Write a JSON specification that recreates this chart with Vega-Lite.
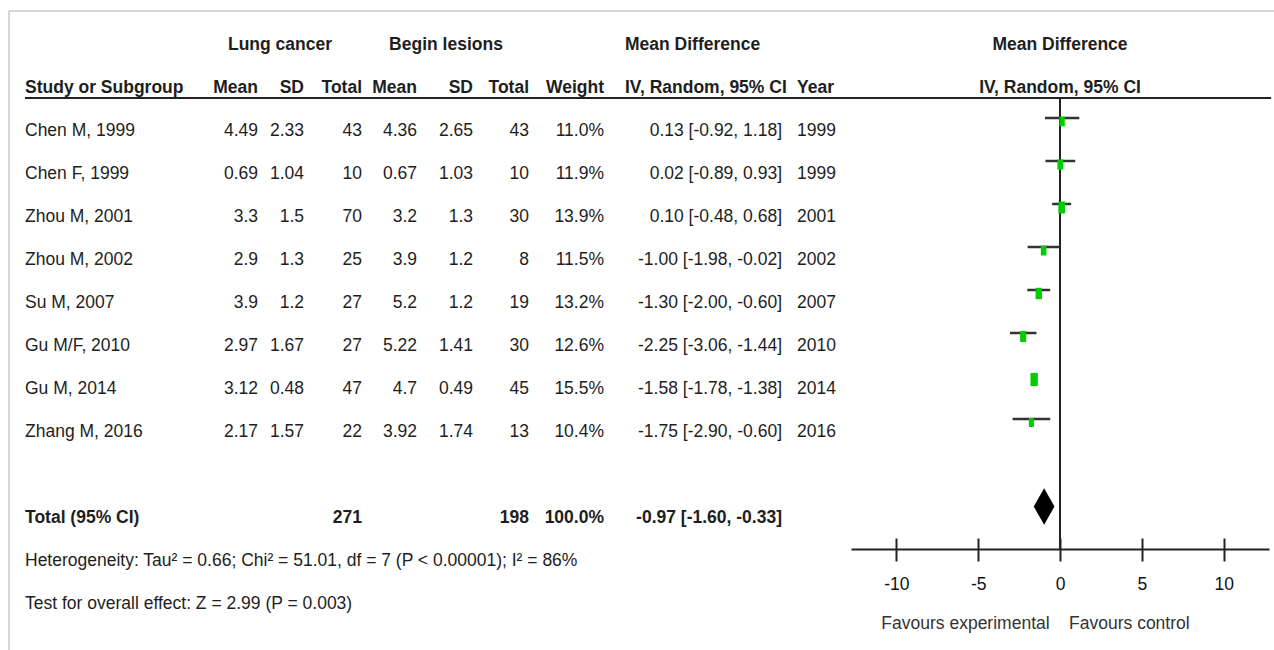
{
  "$schema": "https://vega.github.io/schema/vega-lite/v6.json",
  "padding": {"left": 8, "top": 10, "right": 6, "bottom": 0},
  "background": "white",
  "spacing": 0,
  "bounds": "flush",
  "config": {
    "view": {"stroke": null},
    "font": "'Liberation Sans', Arial, sans-serif",
    "text": {"fontSize": 17.5, "color": "#1e1e1e", "baseline": "middle"}
  },
  "datasets": {
    "one": [{}],
    "studies": [
      {"study": "Chen M, 1999", "m1": 4.49, "s1": 2.33, "n1": 43, "m2": 4.36, "s2": 2.65, "n2": 43, "w": 0.110, "md": 0.13, "lo": -0.92, "hi": 1.18, "ci": "0.13 [-0.92, 1.18]", "year": "1999", "row": 1},
      {"study": "Chen F, 1999", "m1": 0.69, "s1": 1.04, "n1": 10, "m2": 0.67, "s2": 1.03, "n2": 10, "w": 0.119, "md": 0.02, "lo": -0.89, "hi": 0.93, "ci": "0.02 [-0.89, 0.93]", "year": "1999", "row": 2},
      {"study": "Zhou M, 2001", "m1": 3.3, "s1": 1.5, "n1": 70, "m2": 3.2, "s2": 1.3, "n2": 30, "w": 0.139, "md": 0.10, "lo": -0.48, "hi": 0.68, "ci": "0.10 [-0.48, 0.68]", "year": "2001", "row": 3},
      {"study": "Zhou M, 2002", "m1": 2.9, "s1": 1.3, "n1": 25, "m2": 3.9, "s2": 1.2, "n2": 8, "w": 0.115, "md": -1.00, "lo": -1.98, "hi": -0.02, "ci": "-1.00 [-1.98, -0.02]", "year": "2002", "row": 4},
      {"study": "Su M, 2007", "m1": 3.9, "s1": 1.2, "n1": 27, "m2": 5.2, "s2": 1.2, "n2": 19, "w": 0.132, "md": -1.30, "lo": -2.00, "hi": -0.60, "ci": "-1.30 [-2.00, -0.60]", "year": "2007", "row": 5},
      {"study": "Gu M/F, 2010", "m1": 2.97, "s1": 1.67, "n1": 27, "m2": 5.22, "s2": 1.41, "n2": 30, "w": 0.126, "md": -2.25, "lo": -3.06, "hi": -1.44, "ci": "-2.25 [-3.06, -1.44]", "year": "2010", "row": 6},
      {"study": "Gu M, 2014", "m1": 3.12, "s1": 0.48, "n1": 47, "m2": 4.7, "s2": 0.49, "n2": 45, "w": 0.155, "md": -1.58, "lo": -1.78, "hi": -1.38, "ci": "-1.58 [-1.78, -1.38]", "year": "2014", "row": 7},
      {"study": "Zhang M, 2016", "m1": 2.17, "s1": 1.57, "n1": 22, "m2": 3.92, "s2": 1.74, "n2": 13, "w": 0.104, "md": -1.75, "lo": -2.90, "hi": -0.60, "ci": "-1.75 [-2.90, -0.60]", "year": "2016", "row": 8}
    ],
    "total": [
      {"label": "Total (95% CI)", "n1": 271, "n2": 198, "w": 1.0, "md": -0.97, "lo": -1.60, "hi": -0.33, "ci": "-0.97 [-1.60, -0.33]", "row": 10}
    ],
    "headers": [
      {"text": "Lung cancer", "col": 3, "row": -1},
      {"text": "Begin lesions", "col": 7, "row": -1},
      {"text": "Mean Difference", "col": 11, "row": -1},
      {"text": "Study or Subgroup", "col": 1, "row": 0},
      {"text": "Mean", "col": 2, "row": 0},
      {"text": "SD", "col": 4, "row": 0},
      {"text": "Total", "col": 5, "row": 0},
      {"text": "Mean", "col": 6, "row": 0},
      {"text": "SD", "col": 8, "row": 0},
      {"text": "Total", "col": 9, "row": 0},
      {"text": "Weight", "col": 10, "row": 0},
      {"text": "IV, Random, 95% CI", "col": 11, "row": 0},
      {"text": "Year", "col": 13, "row": 0}
    ],
    "rightHeaders": [
      {"text": "Mean Difference", "row": -1},
      {"text": "IV, Random, 95% CI", "row": 0}
    ],
    "notes": [
      {"text": "Heterogeneity: Tau² = 0.66; Chi² = 51.01, df = 7 (P < 0.00001); I² = 86%", "row": 11},
      {"text": "Test for overall effect: Z = 2.99 (P = 0.003)", "row": 12}
    ]
  },
  "hconcat": [
    {
      "width": 842,
      "height": 640,
      "layer": [
        {
          "data": {"name": "one"},
          "mark": {"type": "rule", "color": "#c8c8c8", "strokeWidth": 1.5},
          "encoding": {
            "x": {"datum": 0, "type": "quantitative", "scale": {"domain": [0,1,2,3,4,5,6,7,8,9,10,11,12,13,14], "range": [0,16,249,271,295,353,408,437,464,520,595,616,773,788,842], "nice": false, "zero": false}, "axis": null}
          }
        },
        {
          "data": {"name": "one"},
          "mark": {"type": "rule", "color": "#c8c8c8", "strokeWidth": 1.5},
          "encoding": {
            "x": {"datum": 0, "type": "quantitative", "scale": {"domain": [0,1,2,3,4,5,6,7,8,9,10,11,12,13,14], "range": [0,16,249,271,295,353,408,437,464,520,595,616,773,788,842], "nice": false, "zero": false}, "axis": null},
            "x2": {"datum": 14},
            "y": {"datum": -1.7907, "type": "quantitative", "scale": {"domain": [-1.7907, 13.093], "reverse": true, "nice": false, "zero": false}, "axis": null}
          }
        },
        {
          "data": {"name": "one"},
          "mark": {"type": "rule", "color": "#222222", "strokeWidth": 2},
          "encoding": {
            "x": {"datum": 1, "type": "quantitative", "scale": {"domain": [0,1,2,3,4,5,6,7,8,9,10,11,12,13,14], "range": [0,16,249,271,295,353,408,437,464,520,595,616,773,788,842], "nice": false, "zero": false}, "axis": null},
            "x2": {"datum": 14},
            "y": {"datum": 0.2326, "type": "quantitative", "scale": {"domain": [-1.7907, 13.093], "reverse": true, "nice": false, "zero": false}, "axis": null}
          }
        },
        {
          "data": {"name": "headers"},
          "transform": [{"filter": "datum.col == 1 || datum.col == 11 || datum.col == 13"}],
          "mark": {"type": "text", "align": "left", "fontWeight": "bold"},
          "encoding": {
            "x": {"field": "col", "type": "quantitative", "scale": {"domain": [0,1,2,3,4,5,6,7,8,9,10,11,12,13,14], "range": [0,16,249,271,295,353,408,437,464,520,595,616,773,788,842], "nice": false, "zero": false}, "axis": null},
            "y": {"field": "row", "type": "quantitative", "scale": {"domain": [-1.7907, 13.093], "reverse": true, "nice": false, "zero": false}, "axis": null},
            "text": {"field": "text", "type": "nominal"}
          }
        },
        {
          "data": {"name": "headers"},
          "transform": [{"filter": "datum.col == 3 || datum.col == 7"}],
          "mark": {"type": "text", "align": "center", "fontWeight": "bold"},
          "encoding": {
            "x": {"field": "col", "type": "quantitative", "scale": {"domain": [0,1,2,3,4,5,6,7,8,9,10,11,12,13,14], "range": [0,16,249,271,295,353,408,437,464,520,595,616,773,788,842], "nice": false, "zero": false}, "axis": null},
            "y": {"field": "row", "type": "quantitative", "scale": {"domain": [-1.7907, 13.093], "reverse": true, "nice": false, "zero": false}, "axis": null},
            "text": {"field": "text", "type": "nominal"}
          }
        },
        {
          "data": {"name": "headers"},
          "transform": [{"filter": "datum.col != 1 && datum.col != 11 && datum.col != 13 && datum.col != 3 && datum.col != 7"}],
          "mark": {"type": "text", "align": "right", "fontWeight": "bold"},
          "encoding": {
            "x": {"field": "col", "type": "quantitative", "scale": {"domain": [0,1,2,3,4,5,6,7,8,9,10,11,12,13,14], "range": [0,16,249,271,295,353,408,437,464,520,595,616,773,788,842], "nice": false, "zero": false}, "axis": null},
            "y": {"field": "row", "type": "quantitative", "scale": {"domain": [-1.7907, 13.093], "reverse": true, "nice": false, "zero": false}, "axis": null},
            "text": {"field": "text", "type": "nominal"}
          }
        },
        {
          "data": {"name": "studies"},
          "mark": {"type": "text", "align": "left"},
          "encoding": {
            "x": {"datum": 1, "type": "quantitative", "scale": {"domain": [0,1,2,3,4,5,6,7,8,9,10,11,12,13,14], "range": [0,16,249,271,295,353,408,437,464,520,595,616,773,788,842], "nice": false, "zero": false}, "axis": null},
            "y": {"field": "row", "type": "quantitative", "scale": {"domain": [-1.7907, 13.093], "reverse": true, "nice": false, "zero": false}, "axis": null},
            "text": {"field": "study", "type": "nominal"}
          }
        },
        {
          "data": {"name": "studies"},
          "mark": {"type": "text", "align": "right"},
          "encoding": {
            "x": {"datum": 2, "type": "quantitative", "scale": {"domain": [0,1,2,3,4,5,6,7,8,9,10,11,12,13,14], "range": [0,16,249,271,295,353,408,437,464,520,595,616,773,788,842], "nice": false, "zero": false}, "axis": null},
            "y": {"field": "row", "type": "quantitative", "scale": {"domain": [-1.7907, 13.093], "reverse": true, "nice": false, "zero": false}, "axis": null},
            "text": {"field": "m1", "type": "nominal"}
          }
        },
        {
          "data": {"name": "studies"},
          "mark": {"type": "text", "align": "right"},
          "encoding": {
            "x": {"datum": 4, "type": "quantitative", "scale": {"domain": [0,1,2,3,4,5,6,7,8,9,10,11,12,13,14], "range": [0,16,249,271,295,353,408,437,464,520,595,616,773,788,842], "nice": false, "zero": false}, "axis": null},
            "y": {"field": "row", "type": "quantitative", "scale": {"domain": [-1.7907, 13.093], "reverse": true, "nice": false, "zero": false}, "axis": null},
            "text": {"field": "s1", "type": "nominal"}
          }
        },
        {
          "data": {"name": "studies"},
          "mark": {"type": "text", "align": "right"},
          "encoding": {
            "x": {"datum": 5, "type": "quantitative", "scale": {"domain": [0,1,2,3,4,5,6,7,8,9,10,11,12,13,14], "range": [0,16,249,271,295,353,408,437,464,520,595,616,773,788,842], "nice": false, "zero": false}, "axis": null},
            "y": {"field": "row", "type": "quantitative", "scale": {"domain": [-1.7907, 13.093], "reverse": true, "nice": false, "zero": false}, "axis": null},
            "text": {"field": "n1", "type": "nominal"}
          }
        },
        {
          "data": {"name": "studies"},
          "mark": {"type": "text", "align": "right"},
          "encoding": {
            "x": {"datum": 6, "type": "quantitative", "scale": {"domain": [0,1,2,3,4,5,6,7,8,9,10,11,12,13,14], "range": [0,16,249,271,295,353,408,437,464,520,595,616,773,788,842], "nice": false, "zero": false}, "axis": null},
            "y": {"field": "row", "type": "quantitative", "scale": {"domain": [-1.7907, 13.093], "reverse": true, "nice": false, "zero": false}, "axis": null},
            "text": {"field": "m2", "type": "nominal"}
          }
        },
        {
          "data": {"name": "studies"},
          "mark": {"type": "text", "align": "right"},
          "encoding": {
            "x": {"datum": 8, "type": "quantitative", "scale": {"domain": [0,1,2,3,4,5,6,7,8,9,10,11,12,13,14], "range": [0,16,249,271,295,353,408,437,464,520,595,616,773,788,842], "nice": false, "zero": false}, "axis": null},
            "y": {"field": "row", "type": "quantitative", "scale": {"domain": [-1.7907, 13.093], "reverse": true, "nice": false, "zero": false}, "axis": null},
            "text": {"field": "s2", "type": "nominal"}
          }
        },
        {
          "data": {"name": "studies"},
          "mark": {"type": "text", "align": "right"},
          "encoding": {
            "x": {"datum": 9, "type": "quantitative", "scale": {"domain": [0,1,2,3,4,5,6,7,8,9,10,11,12,13,14], "range": [0,16,249,271,295,353,408,437,464,520,595,616,773,788,842], "nice": false, "zero": false}, "axis": null},
            "y": {"field": "row", "type": "quantitative", "scale": {"domain": [-1.7907, 13.093], "reverse": true, "nice": false, "zero": false}, "axis": null},
            "text": {"field": "n2", "type": "nominal"}
          }
        },
        {
          "data": {"name": "studies"},
          "mark": {"type": "text", "align": "right"},
          "encoding": {
            "x": {"datum": 10, "type": "quantitative", "scale": {"domain": [0,1,2,3,4,5,6,7,8,9,10,11,12,13,14], "range": [0,16,249,271,295,353,408,437,464,520,595,616,773,788,842], "nice": false, "zero": false}, "axis": null},
            "y": {"field": "row", "type": "quantitative", "scale": {"domain": [-1.7907, 13.093], "reverse": true, "nice": false, "zero": false}, "axis": null},
            "text": {"field": "w", "type": "quantitative", "format": ".1%"}
          }
        },
        {
          "data": {"name": "studies"},
          "mark": {"type": "text", "align": "right"},
          "encoding": {
            "x": {"datum": 12, "type": "quantitative", "scale": {"domain": [0,1,2,3,4,5,6,7,8,9,10,11,12,13,14], "range": [0,16,249,271,295,353,408,437,464,520,595,616,773,788,842], "nice": false, "zero": false}, "axis": null},
            "y": {"field": "row", "type": "quantitative", "scale": {"domain": [-1.7907, 13.093], "reverse": true, "nice": false, "zero": false}, "axis": null},
            "text": {"field": "ci", "type": "nominal"}
          }
        },
        {
          "data": {"name": "studies"},
          "mark": {"type": "text", "align": "left"},
          "encoding": {
            "x": {"datum": 13, "type": "quantitative", "scale": {"domain": [0,1,2,3,4,5,6,7,8,9,10,11,12,13,14], "range": [0,16,249,271,295,353,408,437,464,520,595,616,773,788,842], "nice": false, "zero": false}, "axis": null},
            "y": {"field": "row", "type": "quantitative", "scale": {"domain": [-1.7907, 13.093], "reverse": true, "nice": false, "zero": false}, "axis": null},
            "text": {"field": "year", "type": "nominal"}
          }
        },
        {
          "data": {"name": "total"},
          "mark": {"type": "text", "align": "left", "fontWeight": "bold"},
          "encoding": {
            "x": {"datum": 1, "type": "quantitative", "scale": {"domain": [0,1,2,3,4,5,6,7,8,9,10,11,12,13,14], "range": [0,16,249,271,295,353,408,437,464,520,595,616,773,788,842], "nice": false, "zero": false}, "axis": null},
            "y": {"field": "row", "type": "quantitative", "scale": {"domain": [-1.7907, 13.093], "reverse": true, "nice": false, "zero": false}, "axis": null},
            "text": {"field": "label", "type": "nominal"}
          }
        },
        {
          "data": {"name": "total"},
          "mark": {"type": "text", "align": "right", "fontWeight": "bold"},
          "encoding": {
            "x": {"datum": 5, "type": "quantitative", "scale": {"domain": [0,1,2,3,4,5,6,7,8,9,10,11,12,13,14], "range": [0,16,249,271,295,353,408,437,464,520,595,616,773,788,842], "nice": false, "zero": false}, "axis": null},
            "y": {"field": "row", "type": "quantitative", "scale": {"domain": [-1.7907, 13.093], "reverse": true, "nice": false, "zero": false}, "axis": null},
            "text": {"field": "n1", "type": "nominal"}
          }
        },
        {
          "data": {"name": "total"},
          "mark": {"type": "text", "align": "right", "fontWeight": "bold"},
          "encoding": {
            "x": {"datum": 9, "type": "quantitative", "scale": {"domain": [0,1,2,3,4,5,6,7,8,9,10,11,12,13,14], "range": [0,16,249,271,295,353,408,437,464,520,595,616,773,788,842], "nice": false, "zero": false}, "axis": null},
            "y": {"field": "row", "type": "quantitative", "scale": {"domain": [-1.7907, 13.093], "reverse": true, "nice": false, "zero": false}, "axis": null},
            "text": {"field": "n2", "type": "nominal"}
          }
        },
        {
          "data": {"name": "total"},
          "mark": {"type": "text", "align": "right", "fontWeight": "bold"},
          "encoding": {
            "x": {"datum": 10, "type": "quantitative", "scale": {"domain": [0,1,2,3,4,5,6,7,8,9,10,11,12,13,14], "range": [0,16,249,271,295,353,408,437,464,520,595,616,773,788,842], "nice": false, "zero": false}, "axis": null},
            "y": {"field": "row", "type": "quantitative", "scale": {"domain": [-1.7907, 13.093], "reverse": true, "nice": false, "zero": false}, "axis": null},
            "text": {"field": "w", "type": "quantitative", "format": ".1%"}
          }
        },
        {
          "data": {"name": "total"},
          "mark": {"type": "text", "align": "right", "fontWeight": "bold"},
          "encoding": {
            "x": {"datum": 12, "type": "quantitative", "scale": {"domain": [0,1,2,3,4,5,6,7,8,9,10,11,12,13,14], "range": [0,16,249,271,295,353,408,437,464,520,595,616,773,788,842], "nice": false, "zero": false}, "axis": null},
            "y": {"field": "row", "type": "quantitative", "scale": {"domain": [-1.7907, 13.093], "reverse": true, "nice": false, "zero": false}, "axis": null},
            "text": {"field": "ci", "type": "nominal"}
          }
        },
        {
          "data": {"name": "notes"},
          "mark": {"type": "text", "align": "left"},
          "encoding": {
            "x": {"datum": 1, "type": "quantitative", "scale": {"domain": [0,1,2,3,4,5,6,7,8,9,10,11,12,13,14], "range": [0,16,249,271,295,353,408,437,464,520,595,616,773,788,842], "nice": false, "zero": false}, "axis": null},
            "y": {"field": "row", "type": "quantitative", "scale": {"domain": [-1.7907, 13.093], "reverse": true, "nice": false, "zero": false}, "axis": null},
            "text": {"field": "text", "type": "nominal"}
          }
        }
      ]
    },
    {
      "width": 418,
      "height": 538,
      "resolve": {"axis": {"x": "independent"}},
      "layer": [
        {
          "data": {"name": "one"},
          "mark": {"type": "rule", "color": "#c8c8c8", "strokeWidth": 1.5},
          "encoding": {
            "x": {"datum": -12.77, "type": "quantitative", "scale": {"domain": [-12.77, 12.77], "nice": false, "zero": false}, "axis": null},
            "x2": {"datum": 13.15},
            "y": {"datum": -1.7907, "type": "quantitative", "scale": {"domain": [-1.7907, 10.721], "reverse": true, "nice": false, "zero": false}, "axis": null}
          }
        },
        {
          "data": {"name": "one"},
          "mark": {"type": "rule", "color": "#222222", "strokeWidth": 2},
          "encoding": {
            "x": {"datum": -12.77, "type": "quantitative", "scale": {"domain": [-12.77, 12.77], "nice": false, "zero": false}, "axis": null},
            "x2": {"datum": 12.9},
            "y": {"datum": 0.2326, "type": "quantitative", "scale": {"domain": [-1.7907, 10.721], "reverse": true, "nice": false, "zero": false}, "axis": null}
          }
        },
        {
          "data": {"name": "one"},
          "mark": {"type": "rule", "color": "#222222", "strokeWidth": 2},
          "encoding": {
            "x": {"datum": 0, "type": "quantitative", "scale": {"domain": [-12.77, 12.77], "nice": false, "zero": false}, "axis": null},
            "y": {"datum": 0.2326, "type": "quantitative", "scale": {"domain": [-1.7907, 10.721], "reverse": true, "nice": false, "zero": false}, "axis": null},
            "y2": {"datum": 10.721}
          }
        },
        {
          "data": {"name": "studies"},
          "mark": {"type": "rule", "color": "#333333", "strokeWidth": 2.5, "yOffset": -13},
          "encoding": {
            "x": {"field": "lo", "type": "quantitative", "scale": {"domain": [-12.77, 12.77], "nice": false, "zero": false},
              "axis": {"orient": "bottom", "values": [-10, -5, 0, 5, 10], "domain": true, "domainColor": "#222222", "domainWidth": 2, "ticks": true, "tickSize": 12, "tickWidth": 2, "tickColor": "#222222", "grid": false, "labels": true, "labelFontSize": 17.5, "labelColor": "#111111", "labelExpr": "'' + datum.value", "labelBaseline": "middle", "labelPadding": 23, "labelFlush": false, "labelOverlap": false, "title": "Favours experimental\u00a0\u00a0\u00a0\u00a0Favours control", "titleFontSize": 17.5, "titleFontWeight": "normal", "titleColor": "#333333", "titleX": 184, "titleY": 74, "titleBaseline": "middle", "titleAlign": "center"}},
            "x2": {"field": "hi"},
            "y": {"field": "row", "type": "quantitative", "scale": {"domain": [-1.7907, 10.721], "reverse": true, "nice": false, "zero": false}, "axis": null}
          }
        },
        {
          "data": {"name": "studies"},
          "mark": {"type": "point", "shape": "M-1,-1.8L1,-1.8L1,1.8L-1,1.8Z", "filled": true, "color": "#00cc00", "opacity": 1, "yOffset": -9.5},
          "encoding": {
            "x": {"field": "md", "type": "quantitative", "scale": {"domain": [-12.77, 12.77], "nice": false, "zero": false},
              "axis": {"orient": "bottom", "values": [-10, -5, 0, 5, 10], "domain": false, "ticks": true, "tickSize": -11, "tickWidth": 2, "tickColor": "#222222", "grid": false, "labels": false, "title": null}},
            "y": {"field": "row", "type": "quantitative", "scale": {"domain": [-1.7907, 10.721], "reverse": true, "nice": false, "zero": false}, "axis": null},
            "size": {"field": "w", "type": "quantitative", "scale": {"domain": [0.104, 0.155], "range": [25, 53], "zero": false}, "legend": null}
          }
        },
        {
          "data": {"name": "total"},
          "mark": {"type": "point", "shape": "M0,-1.75L1,0L0,1.75L-1,0Z", "filled": true, "color": "#000000", "opacity": 1, "size": 430, "yOffset": -11.5},
          "encoding": {
            "x": {"field": "md", "type": "quantitative", "scale": {"domain": [-12.77, 12.77], "nice": false, "zero": false}, "axis": null},
            "y": {"field": "row", "type": "quantitative", "scale": {"domain": [-1.7907, 10.721], "reverse": true, "nice": false, "zero": false}, "axis": null}
          }
        },
        {
          "data": {"name": "rightHeaders"},
          "mark": {"type": "text", "align": "center", "fontWeight": "bold"},
          "encoding": {
            "x": {"datum": 0, "type": "quantitative", "scale": {"domain": [-12.77, 12.77], "nice": false, "zero": false}, "axis": null},
            "y": {"field": "row", "type": "quantitative", "scale": {"domain": [-1.7907, 10.721], "reverse": true, "nice": false, "zero": false}, "axis": null},
            "text": {"field": "text", "type": "nominal"}
          }
        }
      ]
    }
  ]
}
